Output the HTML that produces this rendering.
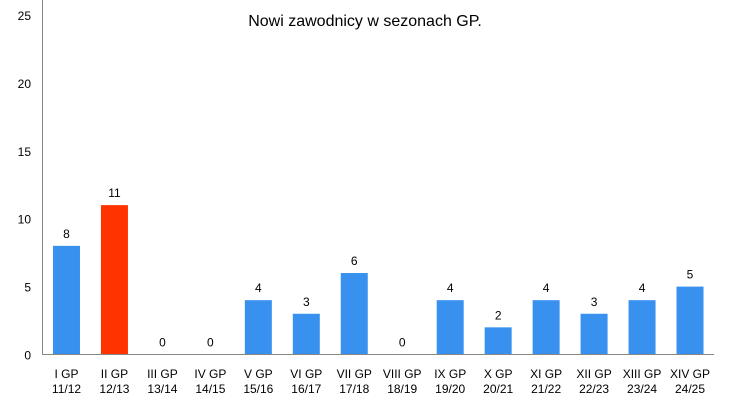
<!DOCTYPE html>
<html><head><meta charset="utf-8"><style>
body{margin:0;background:#fff;}
svg{display:block;font-family:"Liberation Sans",sans-serif;}
</style></head><body>
<svg width="730" height="413">
<text x="365" y="26" text-anchor="middle" font-size="16" fill="#000">Nowi zawodnicy w sezonach GP.</text>
<g id="yaxis"></g>
<g id="bars"></g>
<g id="xlabels"></g>
<line x1="42.5" y1="0" x2="42.5" y2="354.5" stroke="#868686"/>
<line x1="42" y1="354.5" x2="714" y2="354.5" stroke="#868686"/>
</svg>
<script>
const categories=["I GP|11/12","II GP|12/13","III GP|13/14","IV GP|14/15","V GP|15/16","VI GP|16/17","VII GP|17/18","VIII GP|18/19","IX GP|19/20","X GP|20/21","XI GP|21/22","XII GP|22/23","XIII GP|23/24","XIV GP|24/25"];
const values=[8,11,0,0,4,3,6,0,4,2,4,3,4,5];
const highlight=[false,true,false,false,false,false,false,false,false,false,false,false,false,false];
const yTicks=[0,5,10,15,20,25];
const NS="http://www.w3.org/2000/svg";
const x0=42.5,x1=714,y0=354.5,y1=15,yMax=25;
const band=(x1-x0)/categories.length;
const xc=i=>x0+band*(i+0.5);
const yv=v=>y0-(v/yMax)*(y0-y1);
function mk(t,a){const e=document.createElementNS(NS,t);for(const k in a)e.setAttribute(k,a[k]);return e;}
const ya=document.getElementById('yaxis');
yTicks.forEach(t=>{const e=mk('text',{x:31,y:yv(t)+5,'text-anchor':'end','font-size':12,fill:'#000'});


e.textContent=t;ya.appendChild(e);});
const bg=document.getElementById('bars'),xl=document.getElementById('xlabels');
values.forEach((v,i)=>{
const bw=27;
const r=mk('rect',{x:xc(i)-bw/2,y:yv(v),width:bw,height:y0-yv(v),fill:highlight[i]?'#ff3300':'#3891ef'});


bg.appendChild(r);
const l=mk('text',{x:xc(i),y:yv(v)-8,'text-anchor':'middle','font-size':12,fill:'#000'});


l.textContent=v;bg.appendChild(l);
const parts=categories[i].split('|');
parts.forEach((p,j)=>{const t=mk('text',{x:xc(i),y:378+j*15,'text-anchor':'middle','font-size':12,fill:'#000'});


t.textContent=p;xl.appendChild(t);});
});
</script>
</body></html>
